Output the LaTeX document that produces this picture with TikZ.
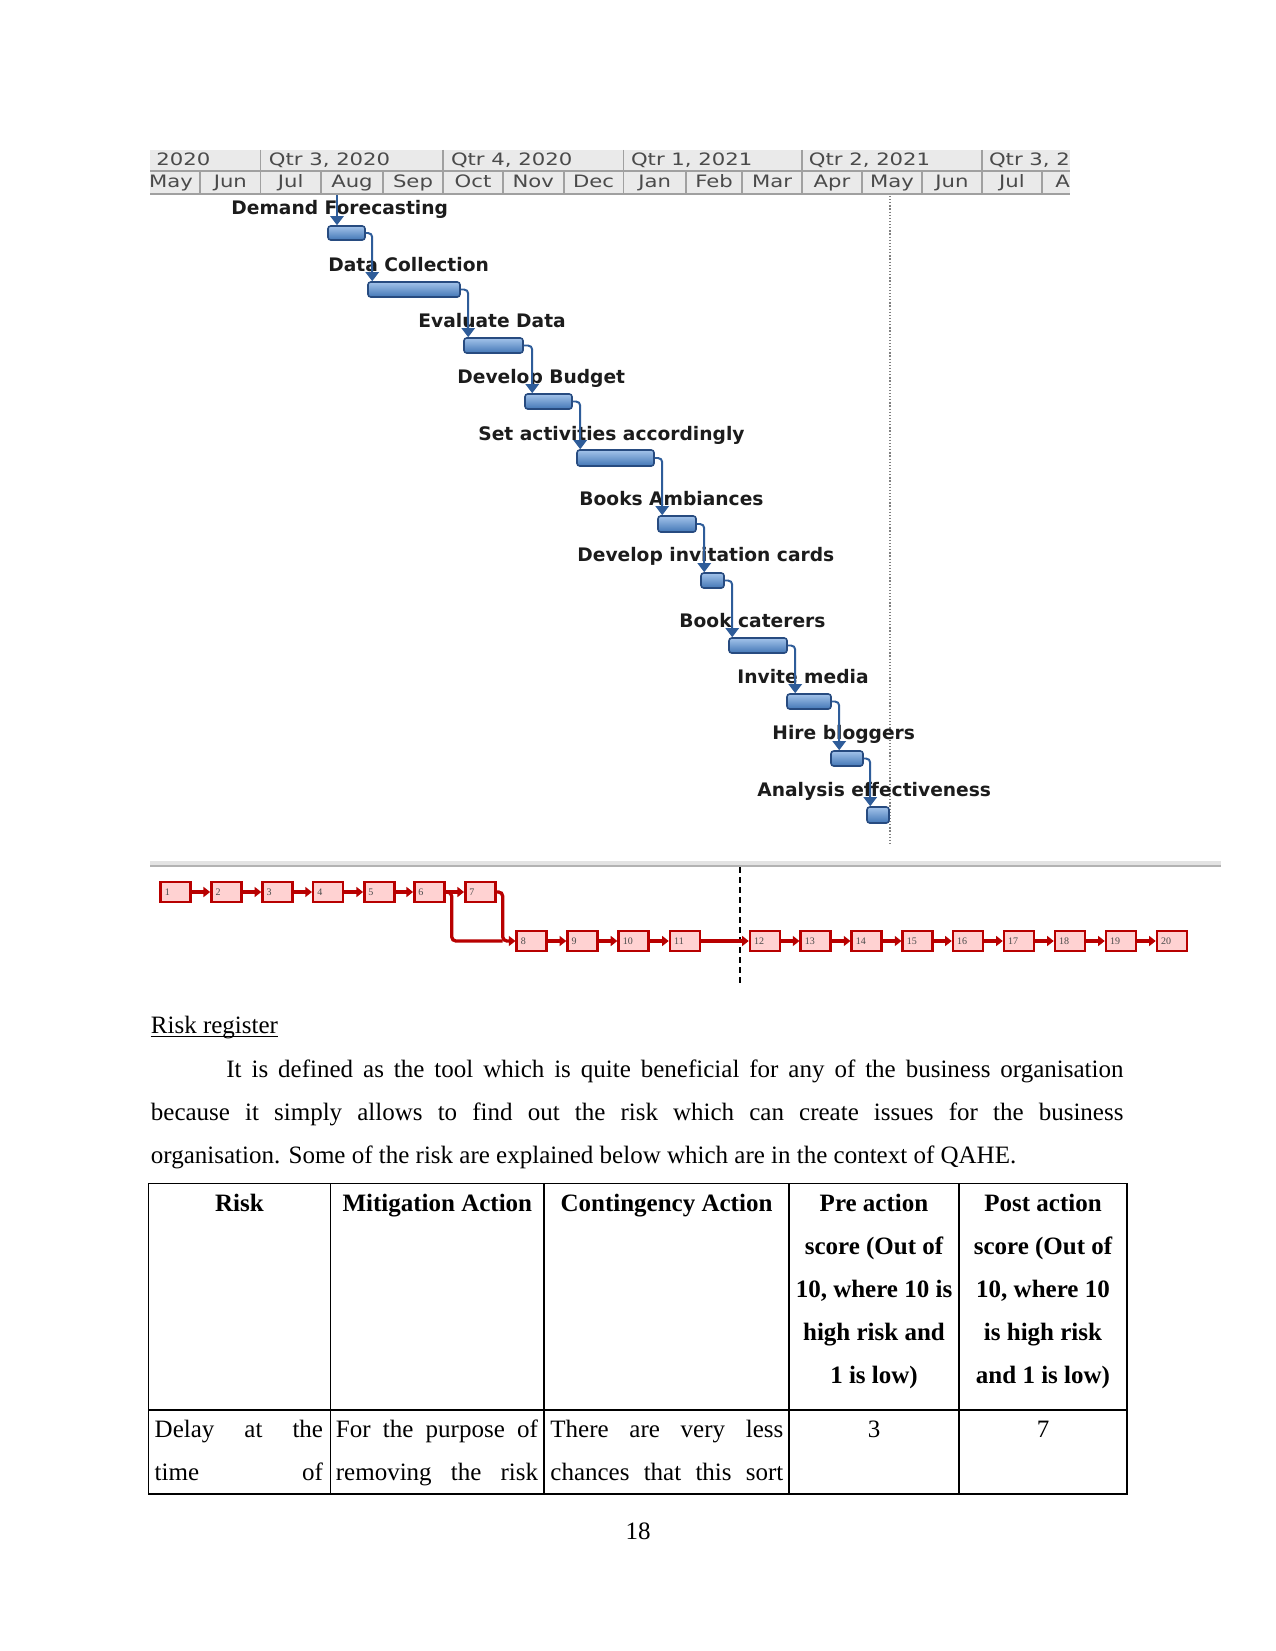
\documentclass[tikz,border=0pt]{standalone}
\usepackage{fontspec}
\usepackage{graphicx}
\setmainfont{Liberation Serif}
\newfontfamily\gfont{DejaVu Sans}
\usetikzlibrary{arrows.meta,calc}
\definecolor{hdrfill}{HTML}{EAEAEA}
\definecolor{hdrline}{HTML}{A0A0A0}
\definecolor{hdrtext}{HTML}{4A4A4A}
\definecolor{bartop}{HTML}{A3C3EA}
\definecolor{barbot}{HTML}{4377B6}
\definecolor{barline}{HTML}{274B80}
\definecolor{gconncol}{HTML}{2E5C99}
\definecolor{glabcol}{HTML}{1C1C1C}
\definecolor{nred}{HTML}{B80000}
\definecolor{npink}{HTML}{FFD2D2}
\definecolor{ntext}{HTML}{4A4A4A}
\newcommand\hs[1]{\scalebox{1.24}[1]{#1}}
\newcommand\gbar[5]{\node[gbar, minimum width={(#3-#2)*0.48pt}, minimum height={(#5-#4)*0.48pt}] (#1) at ({(#2+#3)/2},{(#4+#5)/2}) {};}
\tikzset{
  gbar/.style={rectangle, rounded corners=1.3pt, draw=barline, line width=0.75pt, top color=bartop, bottom color=barbot, inner sep=0pt},
  gconn/.style={draw=gconncol, line width=0.95pt, rounded corners=2pt, -{Triangle[length=4.4pt,width=6.4pt]}},
  glabel/.style={font=\gfont\bfseries\fontsize{8.95}{11}\selectfont, text=glabcol, inner sep=0pt},
  hdrtxt/.style={font=\gfont\fontsize{8.2}{10}\selectfont, text=hdrtext, inner sep=0pt},
  nbox/.style={rectangle, draw=nred, fill=npink, line width=1.2pt, minimum width=14.4pt, minimum height=9.8pt, inner sep=0pt},
  nlab/.style={font=\fontsize{4.8}{5}\selectfont, text=ntext, inner sep=0pt},
  nline/.style={draw=nred, line width=1.6pt},
  nconn/.style={nline, -{Triangle[length=3.2pt,width=4.8pt]}},
  txt/.style={font=\fontsize{12}{14}\selectfont, inner sep=0pt},
  th/.style={font=\bfseries\fontsize{12}{14}\selectfont, inner sep=0pt},
  tline/.style={line width=0.7pt}
}
\begin{document}
\begin{tikzpicture}[x=0.48pt,y=-0.48pt]
\useasboundingbox (0,0) rectangle (1275,1651);
\fill[white] (0,0) rectangle (1275,1651);

% ---------- Gantt header ----------
\fill[hdrfill] (150,150) rectangle (1070,194);
\draw[hdrline, line width=0.9pt] (150,171) -- (1070,171);
\draw[hdrline, line width=0.9pt] (150,194) -- (1070,194);
\foreach \x in {260.5,443,623.5,802,982} \draw[hdrline, line width=0.9pt] (\x,150) -- (\x,194);
\foreach \x in {200,321,383,503,563.6,686,742,862,922,1042} \draw[hdrline, line width=0.9pt] (\x,171) -- (\x,194);
\begin{scope}
\clip (150,150) rectangle (1070,194);
\node[hdrtxt, anchor=base west] (q0) at (156,166) {\hs{2020}};
\node[hdrtxt, anchor=base west] (q1) at (268.5,166) {\hs{Qtr 3, 2020}};
\node[hdrtxt, anchor=base west] (q2) at (450.6,166) {\hs{Qtr 4, 2020}};
\node[hdrtxt, anchor=base west] (q3) at (630.6,166) {\hs{Qtr 1, 2021}};
\node[hdrtxt, anchor=base west] (q4) at (808.5,166) {\hs{Qtr 2, 2021}};
\node[hdrtxt, anchor=base west] (q5) at (988.6,166) {\hs{Qtr 3, 2}};
\node[hdrtxt, anchor=base] (m0) at (171,188) {\hs{May}};
\node[hdrtxt, anchor=base] (m1) at (230.3,188) {\hs{Jun}};
\node[hdrtxt, anchor=base] (m2) at (290.7,188) {\hs{Jul}};
\node[hdrtxt, anchor=base] (m3) at (352,188) {\hs{Aug}};
\node[hdrtxt, anchor=base] (m4) at (413,188) {\hs{Sep}};
\node[hdrtxt, anchor=base] (m5) at (473,188) {\hs{Oct}};
\node[hdrtxt, anchor=base] (m6) at (533.3,188) {\hs{Nov}};
\node[hdrtxt, anchor=base] (m7) at (593.5,188) {\hs{Dec}};
\node[hdrtxt, anchor=base] (m8) at (654.7,188) {\hs{Jan}};
\node[hdrtxt, anchor=base] (m9) at (714,188) {\hs{Feb}};
\node[hdrtxt, anchor=base] (m10) at (772,188) {\hs{Mar}};
\node[hdrtxt, anchor=base] (m11) at (832,188) {\hs{Apr}};
\node[hdrtxt, anchor=base] (m12) at (892,188) {\hs{May}};
\node[hdrtxt, anchor=base] (m13) at (952,188) {\hs{Jun}};
\node[hdrtxt, anchor=base] (m14) at (1012,188) {\hs{Jul}};
\node[hdrtxt, anchor=base west] (m15) at (1055,188) {\hs{A}};
\end{scope}

% status (dotted) line
\draw[gray, line width=0.7pt, dash pattern=on 0.6pt off 0.9pt] (890,196) -- (890,845);

% ---------- Gantt labels ----------
\node[glabel, anchor=base west] (l1) at (231,215) {Demand Forecasting};
\node[glabel, anchor=base west] (l2) at (328,271) {Data Collection};
\node[glabel, anchor=base west] (l3) at (418,327) {Evaluate Data};
\node[glabel, anchor=base west] (l4) at (457,383) {Develop Budget};
\node[glabel, anchor=base west] (l5) at (478,440) {Set activities accordingly};
\node[glabel, anchor=base west] (l6) at (579,505) {Books Ambiances};
\node[glabel, anchor=base west] (l7) at (577,561) {Develop invitation cards};
\node[glabel, anchor=base west] (l8) at (679,627) {Book caterers};
\node[glabel, anchor=base west] (l9) at (737,683) {Invite media};
\node[glabel, anchor=base west] (l10) at (772,739) {Hire bloggers};
\node[glabel, anchor=base west] (l11) at (757,796) {Analysis effectiveness};

% ---------- Gantt bars ----------
\gbar{b1}{328}{365}{226}{240}
\gbar{b2}{368}{460}{282}{297}
\gbar{b3}{464}{523}{338}{353}
\gbar{b4}{525}{572}{394}{409}
\gbar{b5}{577}{654}{450}{466}
\gbar{b6}{658}{696}{516}{532}
\gbar{b7}{701}{724}{573}{588}
\gbar{b8}{729}{787}{638}{653}
\gbar{b9}{787}{831}{694}{709}
\gbar{b10}{831}{863}{751}{766}
\gbar{b11}{867}{889}{807}{823}

% ---------- Gantt connectors ----------
\coordinate (gtop) at (337,195);
\draw[gconn] (gtop) -- (b1.north -| gtop);
\draw[gconn] (b1.east) -| ($(b2.north west)+(5,0)$);
\draw[gconn] (b2.east) -| ($(b3.north west)+(5,0)$);
\draw[gconn] (b3.east) -| ($(b4.north west)+(8,0)$);
\draw[gconn] (b4.east) -| ($(b5.north west)+(4,0)$);
\draw[gconn] (b5.east) -| ($(b6.north west)+(5,0)$);
\draw[gconn] (b6.east) -| ($(b7.north west)+(4,0)$);
\draw[gconn] (b7.east) -| ($(b8.north west)+(4,0)$);
\draw[gconn] (b8.east) -| ($(b9.north west)+(9,0)$);
\draw[gconn] (b9.east) -| ($(b10.north west)+(9,0)$);
\draw[gconn] (b10.east) -| ($(b11.north west)+(4,0)$);

% ---------- separator ----------
\fill[gray!22] (150,861) rectangle (1221,866);
\draw[gray!60, line width=0.6pt] (150,866) -- (1221,866);

% ---------- network ----------
\draw[black, line width=0.7pt, dash pattern=on 2.9pt off 1.9pt] (740,867) -- (740,984);
\foreach \i/\x in {1/160.7,2/211.4,3/262.5,4/313.2,5/364.3,6/414.3,7/465.3}{
  \node[nbox] (n\i) at (\x+15,892) {};
  \node[nlab, anchor=west] (t\i) at ($(n\i.west)+(5,0)$) {\i};
}
\foreach \i/\x in {8/516.7,9/567.5,10/618.6,11/670,12/750,13/800.7,14/851.7,15/902.7,16/953,17/1004,18/1055,19/1106,20/1157}{
  \node[nbox] (n\i) at (\x+15,941) {};
  \node[nlab, anchor=west] (t\i) at ($(n\i.west)+(5,0)$) {\i};
}
\foreach \a/\b in {1/2,2/3,3/4,4/5,5/6,6/7,8/9,9/10,10/11,11/12,12/13,13/14,14/15,15/16,16/17,17/18,18/19,19/20}
  \draw[nconn] (n\a.east) -- (n\b.west);
\coordinate (c68) at (451.7,941);
\coordinate (c78) at (502.7,941);
\draw[nline, rounded corners=2pt] (n6.east) -| (c68) -- (c78);
\draw[nconn, rounded corners=2pt] (n7.east) -| (c78) -- (n8.west);

% ---------- text ----------
\node[txt, anchor=base west] (rr) at (150.5,1033) {Risk register};
\draw[line width=0.5pt] ($(rr.base west)+(0,3.5)$) -- ($(rr.base east)+(0,3.5)$);
\node[txt, anchor=base west] (p1) at (226,1077.3) {\makebox[430.6pt][s]{It is defined as the tool which is quite beneficial for any of the business organisation}};
\node[txt, anchor=base west] (p2) at (150.5,1120) {\makebox[466.8pt][s]{because it simply allows to find out the risk which can create issues for the business}};
\node[txt, anchor=base west] (p3) at (150.5,1163.3) {organisation. Some of the risk are explained below which are in the context of QAHE.};

% ---------- table ----------
\draw[tline] (148.4,1183.3) rectangle (1127,1494);
\draw[tline] (148.4,1410) -- (1127,1410);
\foreach \x in {330.7,544,789,959} \draw[tline] (\x,1183.3) -- (\x,1494);

\node[th, anchor=base] (h1) at (239.5,1211) {Risk};
\node[th, anchor=base] (h2) at (437.3,1211) {Mitigation Action};
\node[th, anchor=base] (h3) at (666.5,1211) {Contingency Action};
\node[th, anchor=base] (h4a) at (874,1211) {Pre action};
\node[th, anchor=base] (h4b) at (874,1254) {score (Out of};
\node[th, anchor=base] (h4c) at (874,1297) {10, where 10 is};
\node[th, anchor=base] (h4d) at (874,1340) {high risk and};
\node[th, anchor=base] (h4e) at (874,1383) {1 is low)};
\node[th, anchor=base] (h5a) at (1043,1211) {Post action};
\node[th, anchor=base] (h5b) at (1043,1254) {score (Out of};
\node[th, anchor=base] (h5c) at (1043,1297) {10, where 10};
\node[th, anchor=base] (h5d) at (1043,1340) {is high risk};
\node[th, anchor=base] (h5e) at (1043,1383) {and 1 is low)};

\node[txt, anchor=base west] (c1a) at (154.3,1437) {\hbox to 80.8pt{Delay\hfill at\hfill the}};
\node[txt, anchor=base west] (c1b) at (154.3,1480) {\hbox to 80.8pt{time\hfill of}};
\node[txt, anchor=base west] (c2a) at (335.5,1437) {\hbox to 97pt{For\hfill the\hfill purpose\hfill of}};
\node[txt, anchor=base west] (c2b) at (335.5,1480) {\hbox to 97pt{removing\hfill the\hfill risk}};
\node[txt, anchor=base west] (c3a) at (550,1437) {\hbox to 111.8pt{There\hfill are\hfill very\hfill less}};
\node[txt, anchor=base west] (c3b) at (550,1480) {\hbox to 111.8pt{chances\hfill that\hfill this\hfill sort}};
\node[txt, anchor=base] (c4) at (874,1437) {3};
\node[txt, anchor=base] (c5) at (1043,1437) {7};

\node[txt, anchor=base] (pg) at (638,1539) {18};
\end{tikzpicture}
\end{document}
